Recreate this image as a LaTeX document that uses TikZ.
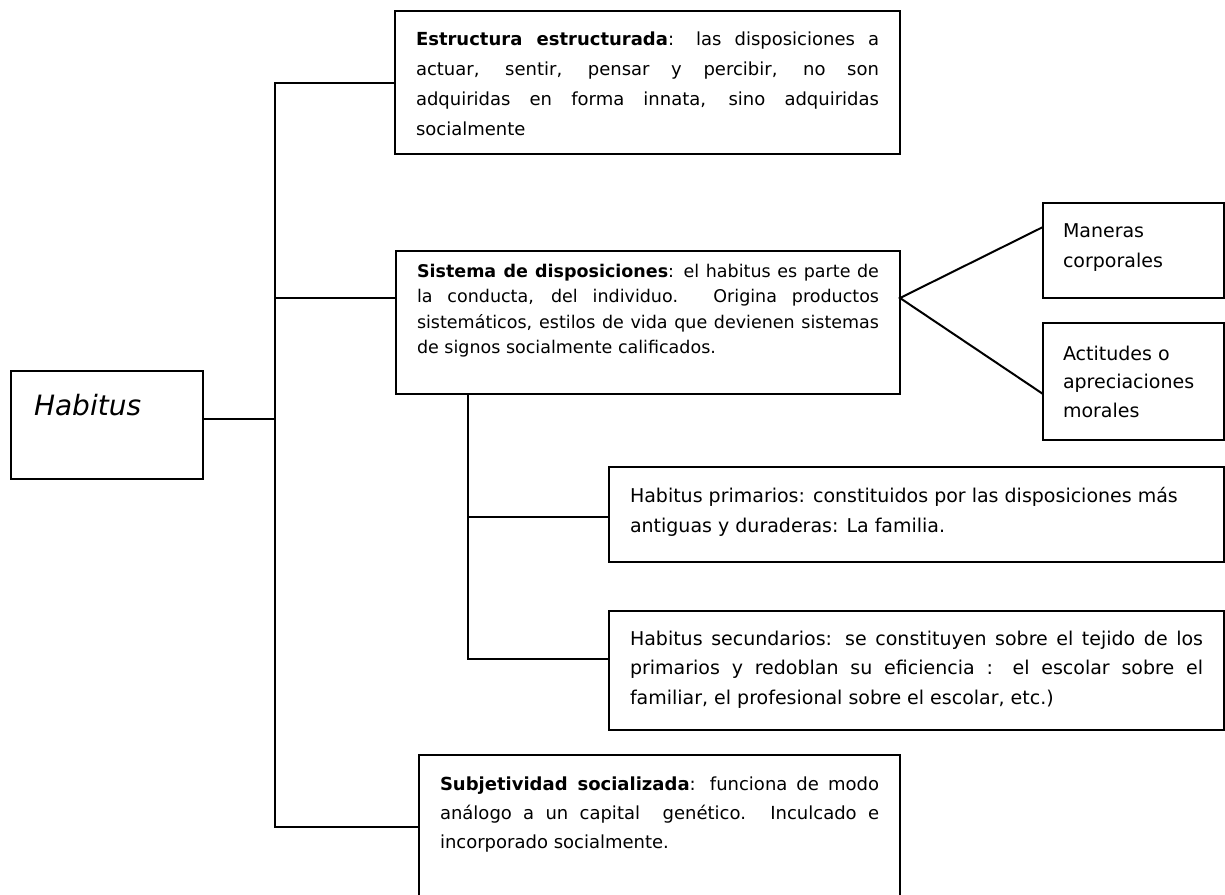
\documentclass[tikz,border=0pt]{standalone}
\usepackage{fontspec}
\setmainfont{DejaVu Sans}
\newcommand{\jline}[1]{\makebox[\linewidth][s]{#1}}
\newcommand{\bxt}[4]{\parbox[c][#2][t]{#1}{\rule{0pt}{#3}#4}}
\begin{document}
\begin{tikzpicture}[x=1pt,y=-1pt,
  bx/.style={draw,line width=2pt,inner xsep=21pt,inner ysep=0pt,outer sep=0pt,anchor=north west},
  cn/.style={line width=2pt}]
\useasboundingbox (0,0) rectangle (1225,894);
\clip (0,0) rectangle (1225,894);
\fill[white] (0,0) rectangle (1225,894);

\node[bx,inner xsep=23pt,font=\fontsize{28}{34}\selectfont\itshape] (hab) at (11,371)
  {\bxt{146pt}{108pt}{44pt}{Habitus}};

\node[bx,font=\fontsize{18}{30}\selectfont] (estr) at (395,11)
  {\bxt{463pt}{143pt}{34pt}{%
  \jline{\textbf{Estructura estructurada}: las disposiciones a}\\
  \jline{actuar, sentir, pensar y percibir, no son}\\
  \jline{adquiridas en forma innata, sino adquiridas}\\
  socialmente}};

\node[bx,font=\fontsize{17.5}{25.5}\selectfont] (sis) at (396,251)
  {\bxt{462pt}{143pt}{26pt}{%
  \jline{\textbf{Sistema de disposiciones}: el habitus es parte de}\\
  \jline{la conducta, del individuo. Origina productos}\\
  \jline{sistemáticos, estilos de vida que devienen sistemas}\\
  de signos socialmente calificados.}};

\node[bx,inner xsep=20pt,font=\fontsize{19}{30}\selectfont] (man) at (1043,203)
  {\bxt{141pt}{95pt}{34pt}{Maneras\\corporales}};

\node[bx,inner xsep=20pt,font=\fontsize{19}{28.5}\selectfont] (act) at (1043,323)
  {\bxt{141pt}{117pt}{37pt}{Actitudes o\\apreciaciones\\morales}};

\node[bx,font=\fontsize{19}{30}\selectfont] (prim) at (609,467)
  {\bxt{573pt}{95pt}{35pt}{%
  Habitus primarios: constituidos por las disposiciones más\\
  antiguas y duraderas: La familia.}};

\node[bx,font=\fontsize{19}{29.5}\selectfont] (sec) at (609,611)
  {\bxt{573pt}{119pt}{34pt}{%
  \jline{Habitus secundarios: se constituyen sobre el tejido de los}\\
  \jline{primarios y redoblan su eficiencia : el escolar sobre el}\\
  familiar, el profesional sobre el escolar, etc.)}};

\node[bx,font=\fontsize{18}{29}\selectfont] (subj) at (419,755)
  {\bxt{439pt}{160pt}{35pt}{%
  \jline{\textbf{Subjetividad socializada}: funciona de modo}\\
  \jline{análogo a un capital\ \ genético. Inculcado e}\\
  incorporado socialmente.}};

% connectors
\coordinate (t1) at (275,83);
\coordinate (t2) at (275,298);
\coordinate (t3) at (275,419);
\coordinate (t4) at (275,827);
\draw[cn] (estr.west |- t1) -- (t1) -- (t4) -- (subj.west |- t4);
\draw[cn] (t2) -- (sis.west |- t2);
\draw[cn] (hab.east |- t3) -- (t3);

\coordinate (s1) at (468,394);
\coordinate (s2) at (468,517);
\coordinate (s3) at (468,659);
\draw[cn] (s1) -- (s3) -- (sec.west |- s3);
\draw[cn] (s2) -- (prim.west |- s2);

\coordinate (ap) at (sis.east |- t2);
\coordinate (ym) at (0,227);
\coordinate (ya) at (0,394);
\draw[cn] (man.west |- ym) -- (ap) -- (act.west |- ya);
\end{tikzpicture}
\end{document}
